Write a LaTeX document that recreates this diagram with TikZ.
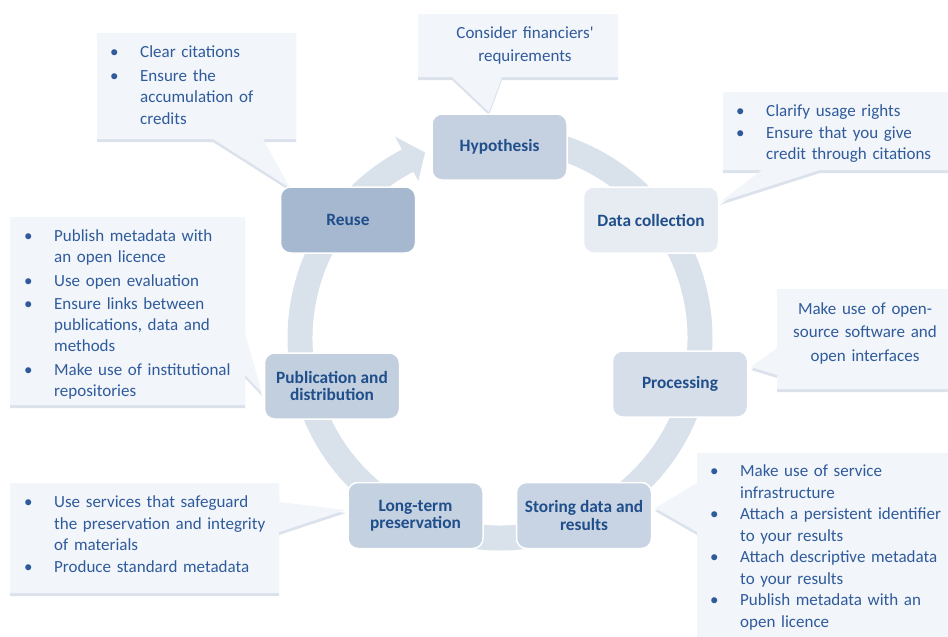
\documentclass[tikz,border=0pt]{standalone}
\usepackage{fontspec}
\setmainfont{Carlito}
\newfontfamily\plainfont{Carlito}
\definecolor{ringcol}{HTML}{D9E1EB}
\definecolor{callfill}{HTML}{F2F5F9}
\definecolor{callshade}{HTML}{DBE2EC}
\definecolor{nodetext}{HTML}{1F4E8A}
\definecolor{calltext}{HTML}{2F5B9C}
\definecolor{cReuse}{HTML}{A5B8D0}
\definecolor{cHyp}{HTML}{C5D1E1}
\definecolor{cData}{HTML}{E7ECF3}
\definecolor{cProc}{HTML}{D6DEE9}
\definecolor{cStore}{HTML}{C8D4E3}
\definecolor{cLong}{HTML}{C4D1E1}
\definecolor{cPub}{HTML}{C2CFDF}
\newcommand\bli[1]{\hangindent=30pt\hangafter=1\noindent\makebox[30pt][l]{\textbullet}#1\par}
\newcommand\calloutshape[1]{\fill[callshade, yshift=-3pt] #1; \fill[callfill] #1;}
\begin{document}
\begin{tikzpicture}[x=1pt,y=-1pt,
  stage/.style={draw=white, line width=1.5pt, rounded corners=10pt,
    minimum width=135pt, minimum height=66pt, inner sep=0pt,
    font=\fontsize{17.3}{17.5}\selectfont\bfseries, text=nodetext, align=center},
  ctext/.style={inner sep=0pt, anchor=base west, text=calltext,
    font=\fontsize{17}{21.5}\selectfont},
  cctext/.style={inner sep=0pt, anchor=base, text=calltext, align=center,
    font=\fontsize{17}{23.5}\selectfont},
  ]
\useasboundingbox (0,0) rectangle (948,637);
\clip (0,0) rectangle (948,637);
% ring with arrow head
\fill[ringcol] ([shift={(500,338)}]-90:212.5) arc[start angle=-90, end angle=242.5, radius=212.5]
  -- ([shift={(500,338)}]242.5:227) -- ([shift={(500,338)}]248:200)
  -- ([shift={(500,338)}]242.5:177) -- ([shift={(500,338)}]242.5:187.5)
  arc[start angle=242.5, end angle=-90, radius=187.5] -- cycle;
% callouts
\calloutshape{(97,33) -- (296,33) -- (296,139) -- (263,139) -- (290,188) -- (213,139) -- (97,139) -- cycle}
\calloutshape{(418,14) -- (618,14) -- (618,77) -- (502,77) -- (489,112) -- (452,77) -- (418,77) -- cycle}
\calloutshape{(723,92) -- (948,92) -- (948,170) -- (820,170) -- (720,202) -- (762,170) -- (723,170) -- cycle}
\calloutshape{(777,289) -- (948,289) -- (948,389) -- (777,389) -- (777,375) -- (751,367) -- (777,348) -- cycle}
\calloutshape{(697,453) -- (948,453) -- (948,645) -- (697,645) -- (697,532) -- (655,508) -- (697,483) -- cycle}
\calloutshape{(10,483) -- (279,483) -- (279,502) -- (346,510) -- (279,532) -- (279,593) -- (10,593) -- cycle}
\calloutshape{(10,217) -- (245,217) -- (245,333) -- (262,393) -- (245,375) -- (245,405) -- (10,405) -- cycle}
% callout texts
\node[ctext, text width=185pt] (tReuse) at (110,57)
  {\setlength\parskip{2.5pt}\bli{Clear citations}\bli{Ensure the\newline accumulation of\newline credits}};
\node[cctext, text width=200pt] (tHyp) at (525,38) {Consider financiers{\plainfont '}\\requirements};
\node[ctext, text width=215pt] (tData) at (736,116.5)
  {\setlength\parskip{0pt}\bli{Clarify usage rights}\bli{Ensure that you give\newline credit through citations}};
\node[cctext, text width=170pt] (tProc) at (865,314) {Make use of open-\\source software and\\open interfaces};
\node[ctext, text width=240pt] (tStore) at (710,476.5)
  {\setlength\parskip{0pt}\bli{Make use of service\newline infrastructure}\bli{Attach a persistent identifier\newline to your results}\bli{Attach descriptive metadata\newline to your results}\bli{Publish metadata with an\newline open licence}};
\node[ctext, text width=260pt] (tLong) at (24,507.5)
  {\setlength\parskip{0pt}\bli{Use services that safeguard\newline the preservation and integrity\newline of materials}\bli{Produce standard metadata}};
\node[ctext, text width=230pt, font=\fontsize{17}{21}\selectfont] (tPub) at (24,241.5)
  {\setlength\parskip{2.5pt}\bli{Publish metadata with\newline an open licence}\bli{Use open evaluation}\bli{Ensure links between\newline publications, data and\newline methods}\bli{Make use of institutional\newline repositories}};
% stages
\node[stage, fill=cHyp] (hyp) at (499.5,147) {Hypothesis};
\node[stage, fill=cData] (data) at (651,220) {Data collection};
\node[stage, fill=cProc] (proc) at (680,384) {Processing};
\node[stage, fill=cStore] (store) at (584,515.5) {Storing data and\\results};
\node[stage, fill=cLong] (long) at (415.5,515.5) {Long-term\\preservation};
\node[stage, fill=cPub] (pub) at (332,386) {Publication and\\distribution};
\node[stage, fill=cReuse] (reuse) at (348,220) {Reuse};
\end{tikzpicture}
\end{document}
